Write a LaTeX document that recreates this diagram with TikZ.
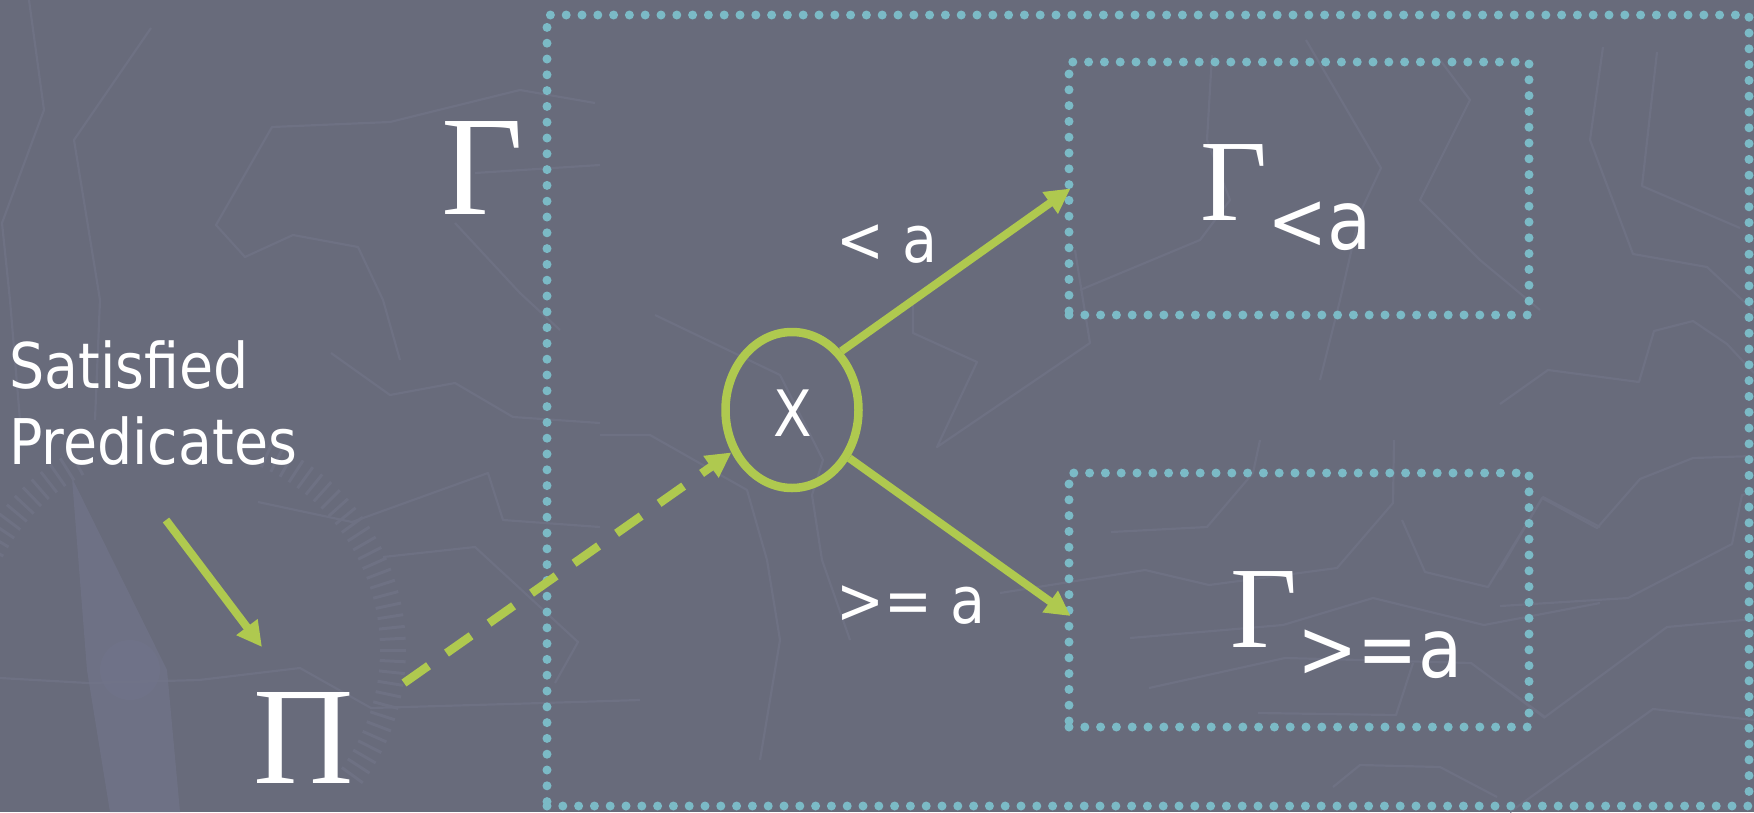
\documentclass[tikz,border=0pt]{standalone}
\usepackage{fontspec}
\usetikzlibrary{arrows.meta,shapes.geometric}
\newfontfamily\sansf[FakeStretch=0.88]{DejaVu Sans}
\newfontfamily\serf{Liberation Serif}
\definecolor{bgc}{HTML}{686B7B}
\definecolor{bgl}{HTML}{6E7183}
\definecolor{bgn}{HTML}{71748A}
\definecolor{grn}{HTML}{AFC94F}
\definecolor{dotc}{HTML}{7BBAC6}
\begin{document}
\begin{tikzpicture}[x=1pt,y=-1pt,
  dotbox/.style={draw=dotc, line width=9pt, dash pattern=on 0pt off 15.8pt, line cap=round, inner sep=0pt},
  garrow/.style={draw=grn, line width=8pt, -{Triangle[length=25pt,width=25pt]}},
  gdash/.style={garrow, line width=8.5pt, dash pattern=on 30pt off 22pt},
  wtxt/.style={text=white, inner sep=0pt},
  faint/.style={draw=bgl, line width=2.2pt, line join=round},
  tick/.style={draw=bgl, line width=3pt},
]
\useasboundingbox (0,0) rectangle (1754,812);
\fill[bgc] (0,0) rectangle (1754,812);

% ---- faint background map ----
\draw[faint] (29,0) -- (44,110) -- (2,223) -- (10,300) -- (20,420);
\draw[faint] (151,28) -- (74,140) -- (100,300) -- (95,420);
\draw[faint] (595,103) -- (520,90) -- (390,122) -- (272,127) -- (216,225) -- (245,257) -- (293,235) -- (358,247) -- (383,300) -- (400,360);
\draw[faint] (455,223) -- (520,293) -- (560,330);
\draw[faint] (475,173) -- (600,165);
\draw[faint] (331,353) -- (390,395) -- (455,383) -- (513,417) -- (600,423);
\draw[faint] (258,502) -- (352,522) -- (488,473) -- (503,520) -- (600,527);
\draw[faint] (383,557) -- (475,547) -- (578,642) -- (555,683);
\draw[faint] (0,678) -- (88,683) -- (199,680) -- (300,668) -- (371,708) -- (543,703) -- (640,700);
\draw[faint] (655,315) -- (780,375) -- (823,460) -- (812,495) -- (822,560) -- (850,640);
\draw[faint] (913,300) -- (913,333) -- (977,362) -- (937,447) -- (1090,343) -- (1083,300) -- (1075,250);
\draw[faint] (600,435) -- (650,435) -- (747,490) -- (767,560) -- (780,640) -- (760,760);
\draw[faint] (1603,47) -- (1590,140) -- (1633,254) -- (1707,267) -- (1754,311);
\draw[faint] (1657,52) -- (1642,186) -- (1740,228);
\draw[faint] (1500,404) -- (1548,370) -- (1639,382) -- (1654,331) -- (1693,321) -- (1727,344) -- (1754,373);
\draw[faint] (1500,606) -- (1628,598) -- (1732,544) -- (1742,495) -- (1754,492);
\draw[faint] (1500,570) -- (1542,498) -- (1597,528) -- (1640,479) -- (1693,458) -- (1754,456);
\draw[faint] (1500,684) -- (1545,717) -- (1667,627) -- (1754,619);
\draw[faint] (1510,812) -- (1653,709) -- (1754,720);
\draw[faint] (1111,532) -- (1207,527) -- (1253,473) -- (1260,440);
\draw[faint] (1000,593) -- (1145,570) -- (1209,585) -- (1337,568) -- (1393,503) -- (1394,440);
\draw[faint] (1130,638) -- (1283,625) -- (1373,598) -- (1484,625) -- (1600,603);
\draw[faint] (1149,688) -- (1285,658) -- (1471,663) -- (1545,718);
\draw[faint] (1258,713) -- (1396,715) -- (1413,663);
\draw[faint] (1333,787) -- (1360,765) -- (1440,767) -- (1497,797);
\draw[faint] (1402,520) -- (1425,572) -- (1488,587) -- (1543,497) -- (1600,527);
\draw[faint] (1212,55) -- (1207,140) -- (1230,200) -- (1200,240) -- (1080,290);
\draw[faint] (1306,40) -- (1381,168) -- (1360,213) -- (1340,300) -- (1320,380);
\draw[faint] (1440,60) -- (1470,100) -- (1420,200) -- (1480,260) -- (1540,310);
% compass
\fill[bgn, opacity=0.7] (72,478) -- (167,670) -- (180,812) -- (110,812) -- (87,670) -- cycle;
\fill[bgn, opacity=0.6] (130,670) circle (30);
\foreach \a in {-66,-63,...,36} \draw[tick] ([shift={(\a:200)}]180,650) -- ([shift={(\a:226)}]180,650);
\foreach \a in {-152,-149,...,-118} \draw[tick] ([shift={(\a:200)}]180,650) -- ([shift={(\a:226)}]180,650);

% ---- boxes ----
\node[dotbox, minimum width=1202pt, minimum height=791pt] (G) at (1148,410.5) {};
\node[dotbox, minimum width=460pt, minimum height=253pt] (lt) at (1299,188.5) {};
\node[dotbox, minimum width=460pt, minimum height=254pt] (lr) at (1299,600) {};

% ---- texts ----
\node[wtxt, anchor=base] (gam) at (483,214) {\serf\fontsize{142}{142}\selectfont Γ};
\node[wtxt, anchor=base] (pi) at (304,783) {\serf\fontsize{139}{139}\selectfont Π};
\node[wtxt, anchor=base west, align=left, font=\sansf\fontsize{63}{76}\selectfont] (sp) at (9,464) {Satisfied\\Predicates};
\node[wtxt, anchor=base west, font=\sansf\fontsize{65}{65}\selectfont] (l1) at (836,262) {< a};
\node[wtxt, anchor=base west, font=\sansf\fontsize{65}{65}\selectfont] (l2) at (836,623) {>= a};
\node[wtxt, anchor=base west] (glt) at (1200,220) {\serf\fontsize{116}{116}\selectfont Γ\raisebox{-29pt}{\sansf\fontsize{82}{82}\selectfont <a}};
\node[wtxt, anchor=base west] (gge) at (1230,647) {\serf\fontsize{116}{116}\selectfont Γ\raisebox{-30pt}{\sansf\fontsize{82}{82}\selectfont >=a}};

% ---- decision node ----
\node[ellipse, draw=grn, line width=8.5pt, minimum width=133pt, minimum height=156pt, inner sep=0pt] (x) at (792,410) {};
\node[wtxt, anchor=base, font=\sansf\fontsize{64}{64}\selectfont] (xl) at (793,436) {X};

% ---- connectors ----
\coordinate (ps) at (404,683);
\coordinate (ss) at (166,520);
\coordinate (se) at (262,647);
\draw[garrow] (x.50) -- ([xshift=6pt]lt.west);
\draw[garrow] (x.-40) -- ([xshift=6pt,yshift=-16pt]lr.west);
\draw[gdash] (ps) -- (x.215);
\draw[garrow] (ss) -- (se);
\end{tikzpicture}
\end{document}
